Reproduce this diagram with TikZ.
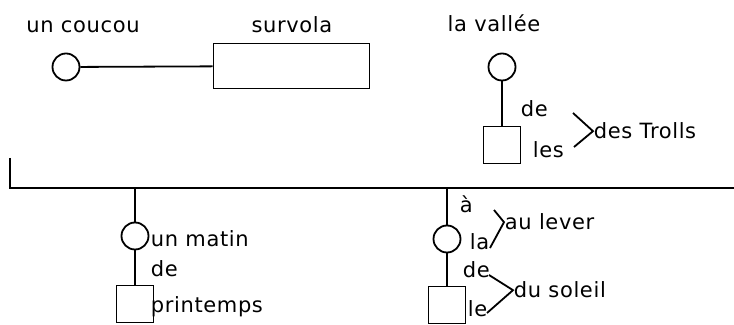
\documentclass[tikz,border=0pt]{standalone}
\usepackage{fontspec}
\setmainfont{DejaVu Sans}[LetterSpace=3]
\begin{document}
\begin{tikzpicture}[x=0.5pt,y=-0.5pt,line width=0.9pt,
  ent/.style={draw,circle,minimum size=13.5pt,inner sep=0pt},
  rel/.style={draw,rectangle,minimum width=78pt,minimum height=22.5pt,inner sep=0pt},
  obj/.style={draw,rectangle,minimum size=18.5pt,inner sep=0pt},
  mot/.style={inner sep=0pt,font=\fontsize{10.5pt}{12pt}\selectfont}]
\useasboundingbox (0,0) rectangle (734,325);
% top row
\node[ent] (coucou) at (66,67) {};
\node[rel] (survola) at (291.5,66) {};
\node[ent] (vallee) at (502,67) {};
\node[obj] (trolls) at (502,145) {};
\node[mot,anchor=base] (t-coucou) at (83,33) {un coucou};
\node[mot,anchor=base] (t-survola) at (292,33) {survola};
\node[mot,anchor=base] (t-vallee) at (494,32) {la vallée};
\node[mot,anchor=base west] (p-de1) at (520,117) {de};
\node[mot,anchor=base west] (p-les) at (532,158) {les};
\node[mot,anchor=base west] (t-trolls) at (593,139) {des Trolls};
\draw (coucou) -- (survola);
\draw (vallee) -- (trolls);
\coordinate (b1) at (573,113);
\coordinate (b2) at (574,147);
\draw (b1) -- (t-trolls.west) -- (b2);
% bar
\coordinate (bar-l) at (10,158);
\coordinate (bar-c) at (10,188);
\coordinate (bar-r) at (734,188);
\draw (bar-l) -- (bar-c) -- (bar-r);
% bottom row
\node[ent] (matin) at (135,236) {};
\node[obj] (printemps) at (135,304) {};
\node[ent] (lever) at (447,239) {};
\node[obj] (soleil) at (447,305) {};
\node[mot,anchor=base west] (t-matin) at (150,247) {un matin};
\node[mot,anchor=base west] (p-de2) at (150,277) {de};
\node[mot,anchor=base west] (t-printemps) at (150,313) {printemps};
\node[mot,anchor=base west] (p-a) at (459,213) {à};
\node[mot,anchor=base west] (p-la) at (469,250) {la};
\node[mot,anchor=base west] (t-lever) at (504,230) {au lever};
\node[mot,anchor=base west] (p-de3) at (462,278) {de};
\node[mot,anchor=base west] (p-le) at (467,317) {le};
\node[mot,anchor=base west] (t-soleil) at (513,298) {du soleil};
\draw (matin |- bar-c) -- (matin);
\draw (matin) -- (printemps);
\draw (lever |- bar-c) -- (lever);
\draw (lever) -- (soleil);
\coordinate (l1) at (494,210);
\coordinate (l2) at (490,248);
\draw (l1) -- (t-lever.west) -- (l2);
\coordinate (s1) at (489,275);
\coordinate (s2) at (487,313);
\draw (s1) -- (t-soleil.west) -- (s2);
\end{tikzpicture}
\end{document}
